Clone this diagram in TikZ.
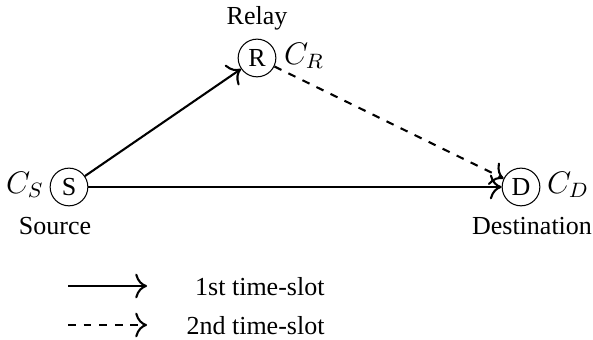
\documentclass[tikz,border=0pt]{standalone}
\usepackage{fontspec}
\setmainfont{Liberation Serif}
\usetikzlibrary{arrows.meta}
\begin{document}
\begin{tikzpicture}[x=0.3846pt,y=-0.3846pt,
  station/.style={draw,circle,minimum size=14.5pt,inner sep=0.5pt,line width=0.4pt},
  link/.style={-{To[scale=1.35]},line width=0.8pt},
  txt/.style={inner sep=0pt}]
\useasboundingbox (0,0) rectangle (593,340);
\node[station] (S) at (69,187) {S};
\node[station] (R) at (257,58) {R};
\node[station] (D) at (521,187) {D};
\node[txt,font=\large] (cs) at (25,185) {$C_S$};
\node[txt,font=\large] (cr) at (304,56) {$C_R$};
\node[txt,font=\large] (cd) at (568,185) {$C_D$};
\node[txt] (src) at (55,226) {Source};
\node[txt] (rel) at (257,18) {Relay};
\node[txt] (dst) at (532,226) {Destination};
\draw[link] (S) -- (R);
\draw[link] (S) -- (D);
\draw[link,dashed] (R) -- (D);
\coordinate (l1a) at (68,286);
\coordinate (l1b) at (147,286);
\coordinate (l2a) at (68,325);
\coordinate (l2b) at (147,325);
\draw[link] (l1a) -- (l1b);
\draw[link,dashed] (l2a) -- (l2b);
\node[txt,anchor=east] (t1) at (325,287) {1st time-slot};
\node[txt,anchor=east] (t2) at (325,326) {2nd time-slot};
\end{tikzpicture}
\end{document}
